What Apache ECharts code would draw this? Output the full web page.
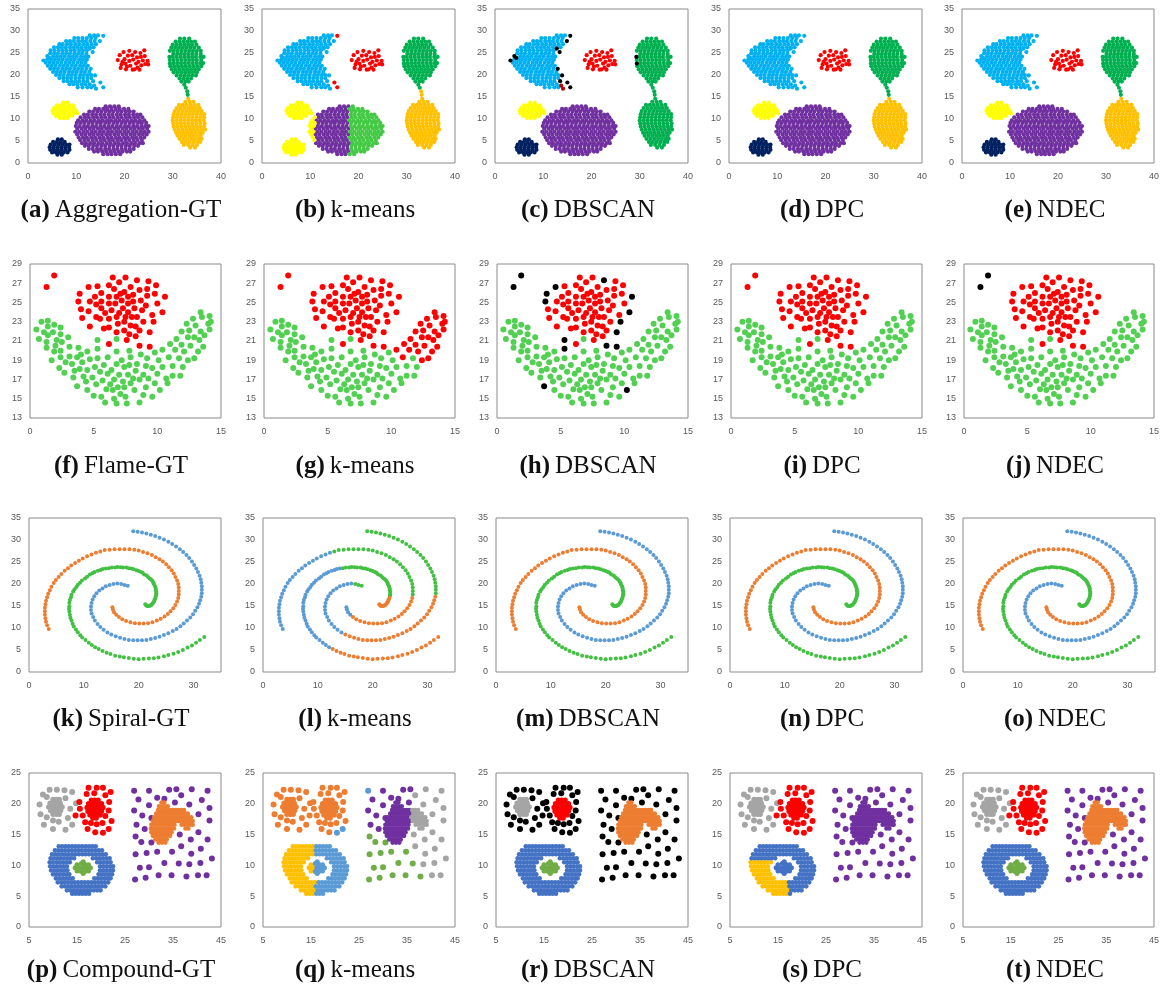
<!DOCTYPE html>
<html><head><meta charset="utf-8">
<script src="https://cdn.jsdelivr.net/npm/echarts/dist/echarts.min.js"></script>
<style>html,body{margin:0;background:#fff}#c{width:1162px;height:991px}</style>
</head><body><div id="c"></div><script>
// ===== Aggregation (rows are [y, x1, x2, ...]) =====
const aggCyanRows = [
 [29.0,12.8,13.7,14.5],
 [28.4,9.6,10.4,11.3,12.2,13.1,14.0],
 [27.7,7.9,8.7,9.5,10.4,11.2,12.0,12.9,13.8],
 [27.0,6.5,7.2,8.1,8.9,9.8,10.6,11.5,12.3,13.2,14.1],
 [26.3,5.4,6.2,7.0,7.8,8.7,9.5,10.3,11.1,12.0,12.8,13.6],
 [25.6,4.7,5.5,6.4,7.2,8.0,8.9,9.7,10.6,11.4,12.2],
 [24.9,4.6,5.4,6.2,7.1,7.9,8.7,9.6,10.4,11.2,12.1],
 [24.2,5.2,6.0,6.8,7.6,8.5,9.3,10.1,11.0,11.8,12.5],
 [23.5,4.0,4.8,5.6,6.4,7.2,8.1,8.9,9.7,10.6,11.4,12.2],
 [22.8,3.7,4.5,5.3,6.1,6.9,7.8,8.6,9.4,10.3,11.1,11.9],
 [22.1,4.1,4.9,5.7,6.6,7.4,8.2,9.1,9.9,10.8,11.6,12.4],
 [21.4,4.6,5.4,6.2,7.1,7.9,8.7,9.6,10.4,11.2,12.1],
 [20.7,5.2,6.0,6.8,7.6,8.5,9.3,10.1,11.0,11.8,12.7],
 [20.0,5.8,6.6,7.4,8.3,9.1,9.9,10.8,11.6,12.4,13.1],
 [19.3,6.5,7.3,8.1,8.9,9.8,10.6,11.4,12.3,13.1],
 [18.6,7.4,8.2,9.0,9.8,10.6,11.5,12.3],
 [17.9,8.6,9.4,10.2,11.1,11.9,12.8],
 [17.2,10.3,11.3,12.3,13.1]
];
const aggCyanRim = [[3.2,23.3],[4.0,24.3],[4.4,23.9],[12.8,26.0],[13.4,25.2],[14.9,27.7],[13.0,21.4],[13.9,19.9],[13.5,18.6]];
const aggCyanEdge = [[15.6,28.9],[15.0,18.3],[15.6,17.2]];
const aggCyanDark = [[13.7,17.6],[14.1,16.9]];
const aggRed = [[18.6,23.4],[19.0,24.5],[19.4,22.4],[19.2,21.6],[19.8,25.2],[20.0,23.6],[20.2,22.6],[20.3,21.3],[20.7,24.4],[21.0,25.5],[21.0,23.2],[21.2,22.1],[21.6,24.5],[21.8,23.5],[21.7,21.2],[22.2,25.2],[22.4,22.6],[22.6,24.0],[22.9,23.0],[22.7,21.7],[23.3,25.0],[23.4,24.1],[23.5,22.2],[23.8,23.3],[24.1,25.6],[24.2,24.3],[24.3,22.5],[24.8,23.2],[24.9,22.4],[20.5,21.9],[22.1,21.3],[19.6,23.0],[23.1,21.2]];
const aggGreenRows = [
 [28.3,31.5,32.4,33.4],
 [27.6,30.6,31.4,32.2,33.0,33.8,34.6],
 [26.9,30.0,30.8,31.6,32.4,33.2,34.0,34.9],
 [26.2,29.7,30.5,31.3,32.1,32.9,33.7,34.5,35.4],
 [25.5,29.4,30.2,31.0,31.8,32.6,33.4,34.2,35.0,35.8],
 [24.8,30.1,30.9,31.7,32.5,33.3,34.1,34.9,35.8],
 [24.1,30.0,30.8,31.6,32.4,33.2,34.0,34.8,35.7,36.4],
 [23.4,29.4,30.2,31.0,31.8,32.6,33.4,34.2,35.0,35.9],
 [22.7,30.1,30.9,31.7,32.5,33.3,34.1,34.9,35.7,36.3],
 [22.0,29.5,30.3,31.1,31.9,32.7,33.5,34.3,35.1,35.9],
 [21.3,29.8,30.6,31.4,32.2,33.0,33.8,34.6,35.4],
 [20.6,30.2,31.0,31.8,32.6,33.4,34.2,35.0],
 [19.9,30.8,31.6,32.4,33.2,34.0,34.8],
 [19.2,31.4,32.2,33.0,33.8],
 [18.5,31.8,32.6,33.3],
 [17.8,32.4],
 [17.1,32.7]
];
const aggGreenRim = [[29.3,24.1],[29.4,22.6]];
const aggBridge = [[33.0,16.3],[33.1,15.5]];
const aggGoldRows = [
 [14.6,33.2],
 [13.9,32.6,33.5,34.3],
 [13.2,31.3,32.1,32.9,33.7,34.5,35.3],
 [12.5,30.8,31.6,32.4,33.2,34.0,34.8,35.6],
 [11.8,30.4,31.2,32.0,32.8,33.6,34.4,35.2,36.0],
 [11.1,30.2,31.0,31.8,32.6,33.4,34.2,35.0,35.8,36.5],
 [10.4,30.1,30.9,31.7,32.5,33.3,34.1,34.9,35.7,36.5],
 [9.7,30.0,30.8,31.6,32.4,33.2,34.0,34.8,35.6,36.4],
 [9.0,30.1,30.9,31.7,32.5,33.3,34.1,34.9,35.7,36.6],
 [8.3,30.2,31.0,31.8,32.6,33.4,34.2,35.0,35.8,36.5],
 [7.6,30.4,31.2,32.0,32.8,33.6,34.4,35.2,36.0,36.7],
 [6.9,30.7,31.5,32.3,33.1,33.9,34.7,35.5,36.2],
 [6.2,31.0,31.8,32.6,33.4,34.2,35.0,35.8],
 [5.5,31.4,32.2,33.0,33.8,34.6,35.4,36.0],
 [4.8,31.9,32.7,33.5,34.3,35.1,35.7],
 [4.1,32.3,33.2,34.1,35.0],
 [3.5,33.6,34.6]
];
const aggPurpleWRows = [[10.4,10.9],[9.7,10.4],[9.1,10.1,10.9],[8.4,9.9,10.7],[7.8,10.2],[7.1,9.8,10.6],[6.5,10.2],[5.8,10.5],[5.2,10.8]];
const aggPurpleMRows = [
 [12.9,16.1,17.0,17.9],
 [12.3,13.9,14.7,15.6,16.4,17.3],
 [11.7,12.7,13.5,14.4,15.2,16.1,16.9,17.7],
 [11.0,11.6,12.4,13.3,14.1,15.0,15.8,16.7,17.5],
 [10.4,11.8,12.6,13.5,14.3,15.2,16.0,16.9,17.7],
 [9.7,11.3,12.1,13.0,13.8,14.7,15.5,16.4,17.2],
 [9.1,11.7,12.6,13.4,14.3,15.1,16.0,16.8,17.7],
 [8.4,11.6,12.4,13.3,14.1,15.0,15.8,16.7,17.5],
 [7.8,11.1,11.9,12.8,13.6,14.5,15.3,16.2,17.0,17.9],
 [7.1,11.5,12.3,13.2,14.0,14.9,15.7,16.6,17.4],
 [6.5,11.1,11.9,12.8,13.6,14.5,15.3,16.2,17.0,17.9],
 [5.8,11.4,12.2,13.1,13.9,14.8,15.6,16.5,17.3],
 [5.2,11.7,12.5,13.4,14.2,15.1,15.9,16.8,17.6],
 [4.5,11.2,12.0,12.9,13.7,14.6,15.4,16.3,17.1,18.0],
 [3.9,11.8,12.6,13.5,14.3,15.2,16.0,16.9,17.7],
 [3.2,12.6,13.4,14.3,15.1,16.0,16.8,17.7],
 [2.6,13.7,14.5,15.4,16.2,17.1,17.9],
 [2.0,15.6,16.5,17.3]
];
const aggPurpleERows = [
 [12.9,18.8],
 [12.3,18.2,19.0,19.9,20.8],
 [11.7,18.6,19.4,20.3,21.1,21.9],
 [11.0,18.4,19.2,20.1,20.9,21.8,22.6,23.3],
 [10.4,18.6,19.4,20.3,21.1,22.0,22.8,23.7],
 [9.7,18.1,18.9,19.8,20.6,21.5,22.3,23.2,24.1],
 [9.1,18.5,19.4,20.2,21.1,21.9,22.8,23.6,24.5],
 [8.4,18.4,19.2,20.1,20.9,21.8,22.6,23.5,24.3,25.0],
 [7.8,18.7,19.6,20.4,21.3,22.1,23.0,23.8,24.7],
 [7.1,18.3,19.1,20.0,20.8,21.7,22.5,23.4,24.2,25.0],
 [6.5,18.7,19.6,20.4,21.3,22.1,23.0,23.8,24.6],
 [5.8,18.2,19.0,19.9,20.7,21.6,22.4,23.3,24.1],
 [5.2,18.5,19.3,20.2,21.0,21.9,22.7,23.6],
 [4.5,18.8,19.7,20.5,21.4,22.2,23.1,23.8],
 [3.9,18.6,19.4,20.3,21.1,22.0,22.8],
 [3.2,18.5,19.4,20.2,21.1,21.9],
 [2.6,18.8,19.6,20.5,21.2],
 [2.0,18.2,19.1]
];
const aggYellowRows = [[13.7,7.3,8.2],[13.1,6.0,6.8,7.6,8.5,9.3],[12.5,5.4,6.2,7.0,7.9,8.7,9.5],[11.9,5.1,5.9,6.7,7.5,8.3,9.2,10.0],[11.3,5.3,6.1,6.9,7.7,8.6,9.4,10.2],[10.7,5.8,6.6,7.5,8.3,9.1],[10.2,6.6,7.4,8.2]];
const aggNavyRows = [[5.4,6.2,7.0],[4.8,5.2,6.0,6.8,7.6],[4.2,4.7,5.5,6.3,7.1,7.9,8.6],[3.6,4.5,5.3,6.1,6.9,7.7,8.5],[3.0,4.6,5.4,6.2,7.0,7.8,8.6],[2.4,5.0,5.8,6.6,7.4,8.2],[1.9,6.1,7.0]];

// ===== Flame =====
const flameRed = [[4.0,24.3],[4.1,23.4],[4.7,25.1],[4.6,24.1],[4.7,22.5],[5.1,25.6],[5.3,26.7],[5.2,23.5],[5.6,26.0],[5.6,25.1],[5.6,24.4],[5.5,23.3],[5.8,22.3],[5.9,23.9],[6.2,26.8],[6.2,25.6],[6.2,24.9],[6.4,24.2],[6.2,23.3],[6.2,22.4],[6.2,20.7],[6.5,27.6],[6.6,26.4],[6.8,25.6],[6.7,24.9],[6.8,23.5],[6.8,21.9],[7.0,27.1],[7.1,25.9],[7.2,25.2],[7.3,24.4],[7.0,23.9],[7.4,23.0],[7.4,22.1],[7.5,27.6],[7.7,25.6],[7.7,24.9],[7.7,24.0],[7.6,21.1],[7.8,21.7],[7.9,26.6],[8.1,25.8],[8.1,25.1],[8.2,24.4],[8.0,23.5],[8.3,22.5],[8.3,21.5],[8.6,26.3],[8.7,25.2],[8.8,24.2],[8.9,23.0],[8.6,22.1],[9.3,27.2],[9.2,26.4],[9.2,25.7],[9.1,24.7],[9.6,23.7],[9.9,26.8],[9.8,25.9],[10.0,24.9],[7.4,26.1],[5.2,24.8],[6.9,22.8],[7.9,22.6],[7.5,23.5],[8.4,23.5]];
const flameRedRim = [[4.6,26.6],[3.9,25.9],[3.8,25.1],[8.4,27.3],[10.6,25.6],[10.4,24.0],[9.7,23.0],[9.4,21.9],[8.6,20.5],[9.4,20.4]];
const flameOutliers = [[1.3,26.6],[1.9,27.8]];
const flameGreen = [[0.5,22.2],[0.7,21.2],[0.9,23.0],[1.1,21.9],[1.3,20.9],[1.3,20.3],[1.4,23.1],[1.4,22.5],[1.4,21.6],[1.8,21.9],[1.7,19.0],[1.9,19.9],[1.9,22.7],[2.0,20.5],[2.1,21.1],[2.4,22.4],[2.4,21.7],[2.4,20.0],[2.3,18.2],[2.5,20.9],[2.4,19.3],[2.7,17.7],[2.8,18.8],[3.0,21.4],[3.1,20.4],[3.1,19.4],[3.3,18.6],[3.4,17.2],[3.5,17.9],[3.8,20.3],[3.7,19.3],[3.9,18.1],[4.0,19.6],[4.1,18.8],[4.2,17.3],[4.4,16.8],[4.5,19.9],[4.5,18.0],[4.5,15.9],[4.7,19.1],[4.9,17.2],[5.0,15.3],[5.1,18.3],[5.2,16.5],[5.3,19.2],[5.5,17.8],[5.6,15.2],[5.7,16.9],[5.8,18.5],[5.9,14.6],[6.0,16.0],[6.1,19.3],[6.1,17.6],[6.3,16.5],[6.4,18.0],[6.5,15.9],[6.6,15.0],[6.6,17.0],[6.8,19.9],[6.8,18.6],[6.8,14.5],[6.8,21.2],[6.9,16.2],[7.0,17.5],[7.1,15.5],[7.2,19.0],[7.3,16.8],[7.4,18.3],[7.4,16.2],[7.5,15.2],[7.6,14.5],[7.7,17.5],[7.8,20.0],[7.8,18.5],[7.9,16.6],[7.9,19.3],[8.1,17.1],[8.2,15.9],[8.3,17.9],[8.4,18.6],[8.6,17.0],[8.6,14.6],[8.7,19.6],[8.9,17.5],[8.9,15.4],[9.1,18.4],[9.1,16.2],[9.2,19.2],[9.3,17.1],[9.6,15.2],[9.6,18.2],[9.8,16.6],[9.8,19.8],[10.0,17.6],[10.1,19.0],[10.4,18.3],[10.7,17.1],[10.8,16.6],[11.2,18.4],[11.2,17.4],[11.7,19.2],[11.8,17.4],[12.0,18.3]];
const flameGreenNoise = [[5.3,21.1],[5.3,20.2],[3.7,16.3],[10.2,15.9]];
const flameGreenArm = [[10.4,20.1],[10.9,19.3],[11.0,20.7],[11.4,20.1],[11.5,21.2],[11.9,22.0],[11.9,20.6],[12.1,19.9],[12.3,22.8],[12.4,21.4],[12.4,19.0],[12.5,22.1],[12.6,20.5],[12.8,23.3],[12.9,19.2],[12.9,21.4],[13.0,22.6],[13.2,19.9],[13.3,21.1],[13.4,24.0],[13.4,22.0],[13.5,23.5],[13.6,20.4],[13.7,21.6],[14.0,22.8],[14.1,23.6],[14.2,23.0],[14.1,22.2]];

// ===== Spiral (each arm cut into the pieces k-means separates) =====
const spBlueA = [[19,32],[19.8,31.9],[20.6,31.7],[21.4,31.5],[22.2,31.2],[23,30.9],[23.8,30.5],[24.6,30.1],[25.4,29.6],[26.1,29.1],[26.8,28.5],[27.5,27.9],[28.1,27.3],[28.7,26.6],[29.2,25.9],[29.7,25.1],[30.1,24.3],[30.5,23.5],[30.8,22.7],[31.1,21.9],[31.3,21.1],[31.4,20.3],[31.5,19.5],[31.5,18.7],[31.5,17.9]];
const spBlueB = [[31.4,17.1],[31.2,16.3],[31,15.5],[30.7,14.7],[30.3,13.9],[29.9,13.1],[29.4,12.4],[28.8,11.7],[28.2,11],[27.6,10.4],[26.9,9.8],[26.2,9.3],[25.4,8.8],[24.6,8.4],[23.8,8],[23,7.7],[22.2,7.5],[21.4,7.3],[20.6,7.2],[19.8,7.2],[19,7.2],[18.2,7.3],[17.4,7.5],[16.6,7.8],[15.8,8.1],[15,8.5]];
const spBlueC = [[14.3,9],[13.6,9.6],[13,10.2],[12.5,10.9],[12,11.7],[11.7,12.5],[11.4,13.3],[11.3,14.1],[11.3,14.9],[11.4,15.7],[11.6,16.5],[11.9,17.2],[12.3,17.9],[12.8,18.5],[13.4,19],[14,19.5],[14.7,19.8],[15.4,20],[16.1,20.1]];
const spBlueD = [[16.8,20],[17.4,19.8],[18,19.6]];
const spOrangeA = [[3.6,9.8],[3.3,10.6],[3.1,11.4],[3,12.2],[2.9,13],[2.9,13.8],[2.9,14.6],[3,15.4],[3.1,16.2],[3.3,17],[3.5,17.8],[3.8,18.6],[4.1,19.4],[4.5,20.2],[4.9,20.9],[5.4,21.6],[5.9,22.3],[6.5,23],[7.1,23.6],[7.7,24.2],[8.4,24.8],[9.1,25.3],[9.8,25.8],[10.6,26.3],[11.4,26.7],[12.2,27.1]];
const spOrangeB = [[13,27.4],[13.8,27.7],[14.7,27.8],[15.6,27.9],[16.5,27.9],[17.4,27.9],[18.3,27.9],[19.2,27.8],[20,27.6],[20.8,27.3],[21.6,27],[22.4,26.6],[23.1,26.1],[23.8,25.6],[24.4,25.1],[25,24.5],[25.5,23.8],[26,23.1],[26.4,22.4],[26.7,21.6],[27,20.8],[27.2,20],[27.3,19.2],[27.3,18.4],[27.3,17.6]];
const spOrangeC = [[27.2,16.8],[27,16],[26.7,15.2],[26.3,14.5],[25.8,13.8],[25.3,13.2],[24.7,12.6],[24,12.1],[23.3,11.7],[22.5,11.3],[21.7,11.1],[20.9,11],[20.1,11],[19.3,11.1],[18.5,11.3],[17.7,11.6],[17,12],[16.4,12.5]];
const spOrangeD = [[15.9,13],[15.5,13.6],[15.3,14.2],[15.2,14.7]];
const spGreenA = [[31.95,7.95],[31.15,7.3],[30.45,6.65],[29.7,6],[28.9,5.55],[28.05,5],[27.2,4.55],[26.35,4.15],[25.4,3.85],[24.6,3.6],[23.6,3.3],[22.75,3.15],[21.85,3.05],[20.9,3],[20,2.9],[19.1,3],[18.2,3.2],[17.3,3.35],[16.55,3.5],[15.7,3.7],[14.85,4.1],[14.15,4.4],[13.4,4.75],[12.7,5.2]];
const spGreenB = [[12.05,5.65],[11.45,6.15],[10.9,6.65],[10.3,7.25],[9.7,7.85],[9.35,8.35],[8.9,9.05],[8.55,9.65],[8.15,10.35],[7.95,10.95],[7.75,11.7],[7.55,12.35],[7.45,13],[7.35,13.75],[7.3,14.35],[7.35,14.95],[7.35,15.75],[7.45,16.35],[7.65,17],[7.75,17.55],[8.05,18.3],[8.3,18.8],[8.65,19.3],[8.9,19.85],[9.3,20.3],[9.65,20.8],[10.2,21.25],[10.6,21.65],[11.1,22.15],[11.55,22.45],[11.95,22.7],[12.55,23],[13.05,23.2],[13.45,23.4],[14,23.55]];
const spGreenC = [[14.55,23.6],[15.1,23.75],[15.7,23.75],[16.15,23.85],[16.7,23.8],[17.15,23.75],[17.75,23.75],[18.2,23.6],[18.65,23.5],[19.1,23.35],[19.6,23.15],[20,22.95],[20.4,22.7],[20.7,22.55],[21,22.15],[21.45,21.95],[21.75,21.55],[22,21.25],[22.25,21],[22.5,20.7],[22.65,20.35],[22.75,20.05],[22.9,19.65],[23,19.35],[23.1,19],[23.1,18.6],[23.2,18.25],[23.2,17.9],[23.2,17.5],[23.1,17.25]];
const spGreenD = [[23.05,16.8],[22.9,16.5],[22.85,16.2],[22.7,15.85],[22.55,15.6],[22.4,15.35],[22.25,15.2],[22.1,15.1],[21.9,15],[21.7,15],[21.5,15],[21.3,15.2],[21.2,15.4]];

// ===== Compound =====
const cmpSparseBlue = [[26.9,22.1]];
const cmpSparsePurple = [[30.0,22.1],[31.7,21.0],[33.2,20.8],[34.2,22.3],[35.7,22.35],[27.8,20.7],[30.0,19.75],[35.4,20.2],[26.9,18.9],[28.6,18.1],[30.5,17.7],[27.4,16.6],[29.1,15.9]];
const cmpSparseGray = [[36.7,21.4],[38.9,22.35],[42.2,22.1],[38.4,19.9],[41.0,20.6],[42.6,19.3],[40.3,18.3],[42.6,17.3],[36.4,15.0],[40.3,15.4],[42.2,14.2],[38.7,14.2],[36.7,13.1],[38.8,11.9],[40.8,12.7],[43.1,11.1],[38.4,10.2],[40.7,10.4],[40.2,8.4],[42.0,8.4]];
const cmpSparseGreen = [[27.2,14.7],[28.4,13.8],[30.5,13.7],[27.2,11.8],[29.5,12.0],[31.7,12.2],[34.8,12.2],[28.1,9.6],[30.0,9.7],[33.2,10.4],[36.2,10.3],[27.1,7.7],[29.3,8.0],[32.0,8.4],[34.7,8.4],[37.8,8.2]];
const cmpBlobMainRows = [
 [20.2,32.6,33.2],
 [19.6,32.1,32.7,33.3,33.9],
 [19.0,31.9,32.5,33.1,33.7,34.3,34.9,35.5],
 [18.4,31.5,32.1,32.7,33.3,33.9,34.5,35.1,35.7],
 [17.8,31.1,31.7,32.3,32.9,33.5,34.1,34.7,35.3],
 [17.2,30.8,31.4,32.0,32.6,33.2,33.8,34.4,35.0,35.6],
 [16.6,30.5,31.1,31.7,32.3,32.9,33.5,34.1,34.7,35.3],
 [16.0,30.4,31.0,31.6,32.2,32.8,33.4,34.0,34.6,35.2],
 [15.4,30.5,31.1,31.7,32.3,32.9,33.5,34.1,34.7],
 [14.8,30.8,31.4,32.0,32.6,33.2,33.8,34.4],
 [14.2,31.3,31.9,32.5,33.1,33.7],
 [13.7,32.0,32.7,33.4]
];
const cmpBlobArmRows = [
 [19.0,36.1,36.7,37.3],
 [18.4,36.3,36.9,37.5,38.1],
 [17.8,35.9,36.5,37.1,37.7,38.3,38.8],
 [17.2,36.2,36.8,37.4,38.0,38.6,39.1],
 [16.6,36.8,37.4,38.0,38.6,39.1],
 [16.0,37.6,38.2]
];
const cmpRingARows = [[10.5,9.3,10.0,10.7,11.4,12.1,12.8,13.5],[9.85,9.4,10.1,10.8,11.5,12.2,12.9],[9.2,9.6,10.3,11.0,11.7,12.4,13.0],[8.55,10.0,10.7,11.4,12.1,12.8,13.4],[7.9,10.6,11.3,12.0,12.7,13.4,14.1],[7.25,11.0,11.7,12.4,13.1,13.8,14.5,15.2,15.9],[6.6,11.8,12.5,13.2,13.9,14.6,15.3],[5.95,12.9,13.6,14.3,15.0,15.7],[5.4,14.0,14.7,15.4]];
const cmpRingBRows = [[13.1,11.2,11.9,12.6,13.3,14.0,14.7,15.4],[12.45,10.4,11.1,11.8,12.5,13.2,13.9,14.6,15.3],[11.8,9.8,10.5,11.2,11.9,12.6,13.3,14.0,14.7,15.4],[11.15,9.5,10.2,10.9,11.6,12.3,13.0,13.7,14.4]];
const cmpRingCRows = [[7.25,16.6],[6.6,16.0,16.7],[5.95,16.4,17.1],[5.4,16.1,16.8]];
const cmpRingDRows = [[13.1,16.1,16.8,17.5,18.2,18.9],[12.45,16.0,16.7,17.4,18.1,18.8,19.5,20.2],[11.8,16.1,16.8,17.5,18.2,18.9,19.6,20.3,21.0],[11.15,18.3,19.0,19.7,20.4,21.1,21.8],[10.5,19.2,19.9,20.6,21.3,22.0],[9.85,19.8,20.5,21.2,21.9,22.5],[9.2,19.8,20.5,21.2,21.9,22.5],[8.55,19.5,20.2,20.9,21.6,22.3],[7.9,18.6,19.3,20.0,20.7,21.4,22.0],[7.25,17.3,18.0,18.7,19.4,20.1,20.8,21.5],[6.6,17.4,18.1,18.8,19.5,20.2,20.9],[5.95,17.8,18.5,19.2,19.9],[5.4,17.5]];
const cmpCoreL = [[14.6,9.6],[15.0,10.1],[15.0,9.1],[15.4,9.6]];
const cmpCoreR = [[15.9,10.3],[15.9,9.0],[16.2,9.6],[16.6,10.2],[16.6,9.0],[17.0,9.6],[17.4,10.1],[17.4,9.1],[17.8,9.6],[16.3,10.6],[16.3,8.7]];
const cmpGraySparse = [[9.3,22.3],[10.8,22.3],[12.4,22.2],[14.0,21.9],[7.9,21.5],[8.7,21.1],[12.6,20.9],[7.2,19.9],[14.8,20.1],[13.6,19.2],[7.4,18.3],[8.7,17.8],[13.1,17.7],[10.0,17.3],[11.2,17.1],[8.1,16.6],[14.0,16.6],[10.0,15.9],[12.6,15.8]];
const cmpGrayCoreRows = [[20.7,10.0,10.7,11.3],[20.1,9.4,10.1,10.8,11.5],[19.5,9.1,9.8,10.5,11.2,11.9],[18.9,9.5,10.2,10.9,11.6],[18.3,10.0,10.7,11.3]];
const cmpRedSparse = [[17.4,22.6],[19.1,22.6],[20.4,22.6],[17.0,21.6],[18.6,21.7],[20.9,21.4],[22.0,21.9],[15.5,20.3],[21.7,20.3],[15.6,19.2],[21.6,18.9],[14.7,18.1],[16.2,18.1],[20.9,18.0],[22.2,17.2],[16.7,17.0],[17.9,16.9],[19.1,16.7],[20.3,16.9],[17.2,15.9],[18.8,15.4]];
const cmpRedKm = [[20.4,15.3],[21.6,15.9]];
const cmpRedCoreRows = [[20.6,18.0,18.7,19.4],[20.0,17.4,18.1,18.8,19.5,20.1],[19.4,17.1,17.8,18.5,19.2,19.9,20.4],[18.8,17.3,18.0,18.7,19.4,20.1],[18.2,17.7,18.4,19.1,19.8],[17.7,18.3,19.0]];

// ===== axes and captions =====
const methodNames = ['GT', 'k-means', 'DBSCAN', 'DPC', 'NDEC'];
const datasetNames = ['Aggregation', 'Flame', 'Spiral', 'Compound'];
const aggXTicks = [0, 10, 20, 30, 40], aggYTicks = [0, 5, 10, 15, 20, 25, 30, 35];
const flameXTicks = [0, 5, 10, 15], flameYTicks = [13, 15, 17, 19, 21, 23, 25, 27, 29];
const spiralXTicks = [0, 10, 20, 30], spiralYTicks = [0, 5, 10, 15, 20, 25, 30, 35];
const cmpXTicks = [5, 15, 25, 35, 45], cmpYTicks = [0, 5, 10, 15, 20, 25];

const COLORS = {
  cyan:'#00b0f0', red:'#ff0000', green:'#00b050', gold:'#ffc000', purple:'#7030a0', yellow:'#ffff00',
  navy:'#002060', lime:'#44c944', black:'#000000', darkred:'#c00000',
  fgreen:'#52d052', sblue:'#5b9bd5', sorange:'#ed7d31', sgreen:'#42c042',
  blue:'#4472c4', kblue:'#5b9bd5', cgreen:'#70ad47', orange:'#ed7d31', gray:'#a5a5a5'
};

function fromRows(rows) {
  const pts = [];
  rows.forEach(r => { for (let i = 1; i < r.length; i++) pts.push([r[i], r[0]]); });
  return pts;
}

// group: [points, colour per method (GT, k-means, DBSCAN, DPC, NDEC), dot size]
const datasets = [
  { x:[0,40,10], y:[0,35,5], xt:aggXTicks, yt:aggYTicks, dx:0, groups:[
    [fromRows(aggPurpleMRows), ['purple','purple','purple','purple','purple'], 4.2],
    [fromRows(aggPurpleERows), ['purple','lime','purple','purple','purple'], 4.2],
    [fromRows(aggPurpleWRows), ['purple','yellow','purple','purple','purple'], 4.2],
    [fromRows(aggYellowRows), ['yellow','yellow','yellow','yellow','yellow'], 4.2],
    [fromRows(aggNavyRows), ['navy','yellow','navy','navy','navy'], 4.2],
    [fromRows(aggCyanRows), ['cyan','cyan','cyan','cyan','cyan'], 4.2],
    [aggRed, ['red','red','red','red','red'], 4.2],
    [fromRows(aggGreenRows), ['green','green','green','green','green'], 4.2],
    [fromRows(aggGoldRows), ['gold','gold','green','gold','gold'], 4.2],
    [aggBridge, ['green','gold','green','green','green'], 4.2],
    [aggCyanRim, ['cyan','cyan','black','cyan','cyan'], 4.2],
    [aggCyanEdge, ['cyan','red','black','cyan','cyan'], 4.2],
    [aggCyanDark, ['cyan','cyan','darkred','cyan','cyan'], 4.2],
    [aggGreenRim, ['green','green','black','green','green'], 4.2]
  ]},
  { x:[0,15,5], y:[13,29,2], xt:flameXTicks, yt:flameYTicks, dx:2, groups:[
    [flameGreen, ['fgreen','fgreen','fgreen','fgreen','fgreen'], 6],
    [flameGreenArm, ['fgreen','red','fgreen','fgreen','fgreen'], 6],
    [flameGreenNoise, ['fgreen','fgreen','black','fgreen','fgreen'], 6],
    [flameRed, ['red','red','red','red','red'], 6],
    [flameRedRim, ['red','red','black','red','red'], 6],
    [flameOutliers, ['red','red','black','red','black'], 6]
  ]},
  { x:[0,35,10], y:[0,35,5], xt:spiralXTicks, yt:spiralYTicks, dx:1, groups:[
    [spBlueA, ['sblue','sgreen','sblue','sblue','sblue'], 4],
    [spBlueB, ['sblue','sorange','sblue','sblue','sblue'], 4],
    [spBlueC, ['sblue','sblue','sblue','sblue','sblue'], 4],
    [spBlueD, ['sblue','sgreen','sblue','sblue','sblue'], 4],
    [spOrangeA, ['sorange','sblue','sorange','sorange','sorange'], 4],
    [spOrangeB, ['sorange','sgreen','sorange','sorange','sorange'], 4],
    [spOrangeC, ['sorange','sorange','sorange','sorange','sorange'], 4],
    [spOrangeD, ['sorange','sblue','sorange','sorange','sorange'], 4],
    [spGreenA, ['sgreen','sorange','sgreen','sgreen','sgreen'], 4],
    [spGreenB, ['sgreen','sblue','sgreen','sgreen','sgreen'], 4],
    [spGreenC, ['sgreen','sgreen','sgreen','sgreen','sgreen'], 4],
    [spGreenD, ['sgreen','sorange','sgreen','sgreen','sgreen'], 4]
  ]},
  { x:[5,45,10], y:[0,25,5], xt:cmpXTicks, yt:cmpYTicks, dx:1, groups:[
    [cmpSparseBlue, ['purple','kblue','black','purple','purple'], 6],
    [cmpSparsePurple, ['purple','purple','black','purple','purple'], 6],
    [cmpSparseGray, ['purple','gray','black','purple','purple'], 6],
    [cmpSparseGreen, ['purple','cgreen','black','purple','purple'], 6],
    [fromRows(cmpBlobMainRows), ['orange','purple','orange','purple','orange'], 4.6],
    [fromRows(cmpBlobArmRows), ['orange','gray','orange','purple','orange'], 4.6],
    [fromRows(cmpRingARows), ['blue','gold','blue','gold','blue'], 4.6],
    [fromRows(cmpRingBRows), ['blue','gold','blue','blue','blue'], 4.6],
    [fromRows(cmpRingCRows), ['blue','kblue','blue','gold','blue'], 4.6],
    [fromRows(cmpRingDRows), ['blue','kblue','blue','blue','blue'], 4.6],
    [cmpCoreL, ['cgreen','gold','cgreen','blue','cgreen'], 5],
    [cmpCoreR, ['cgreen','kblue','cgreen','blue','cgreen'], 5],
    [cmpGraySparse, ['gray','orange','black','gray','gray'], 6],
    [fromRows(cmpGrayCoreRows), ['gray','orange','gray','gray','gray'], 5.4],
    [cmpRedSparse, ['red','orange','black','red','red'], 6],
    [cmpRedKm, ['red','kblue','black','red','red'], 6],
    [fromRows(cmpRedCoreRows), ['red','orange','red','red','red'], 5.4]
  ]}
];

// ===== layout =====
const colLeft = [28, 262, 495, 729, 962];
const rowTop = [9, 264, 518, 773];
const boxW = 193, boxH = 154;
const captionTop = [192, 448, 701, 952];
const letters = 'abcdefghijklmnopqrst';

const grids = [], xAxes = [], yAxes = [], series = [], titles = [];
const labelBase = { color:'#595959', fontSize:9, fontFamily:'Liberation Sans' };
datasets.forEach((ds, r) => {
  for (let c = 0; c < 5; c++) {
    const p = r * 5 + c;
    const left = colLeft[c] + ds.dx;
    grids.push({ left, top: rowTop[r], width: boxW - ds.dx, height: boxH,
      show: true, borderColor: '#8a8a8a', borderWidth: 1, backgroundColor: '#fff' });
    xAxes.push({ gridIndex: p, type: 'value', min: ds.x[0], max: ds.x[1], interval: ds.x[2],
      axisLine: { show: false }, axisTick: { show: false }, splitLine: { show: false },
      axisLabel: Object.assign({ margin: 9, showMaxLabel: true, showMinLabel: true,
        formatter: v => ds.xt.includes(v) ? String(v) : '' }, labelBase) });
    yAxes.push({ gridIndex: p, type: 'value', min: ds.y[0], max: ds.y[1], interval: ds.y[2],
      axisLine: { show: false }, axisTick: { show: false }, splitLine: { show: false },
      axisLabel: Object.assign({ margin: 8, showMaxLabel: true, showMinLabel: true,
        formatter: v => ds.yt.includes(v) ? String(v) : '' }, labelBase) });
    ds.groups.forEach(g => {
      series.push({ type: 'scatter', xAxisIndex: p, yAxisIndex: p, data: g[0], symbol: 'circle',
        symbolSize: g[2], silent: true, itemStyle: { color: COLORS[g[1][c]], opacity: 1 } });
    });
    const caption = c === 0 ? datasetNames[r] + '-GT' : methodNames[c];
    titles.push({ text: '{b|(' + letters[p] + ')} {n|' + caption + '}', left: colLeft[c] + 88, top: captionTop[r],
      textAlign: 'center',
      textStyle: { fontWeight: 'normal', rich: {
        b: { fontFamily: 'Liberation Serif', fontWeight: 'bold', fontSize: 25, color: '#111', lineHeight: 27 },
        n: { fontFamily: 'Liberation Serif', fontWeight: 'normal', fontSize: 25, color: '#111', lineHeight: 27 } } } });
  }
});

const chart = echarts.init(document.getElementById('c'));
chart.setOption({ animation: false, backgroundColor: '#fff', title: titles, grid: grids,
  xAxis: xAxes, yAxis: yAxes, series: series });
</script></body></html>
